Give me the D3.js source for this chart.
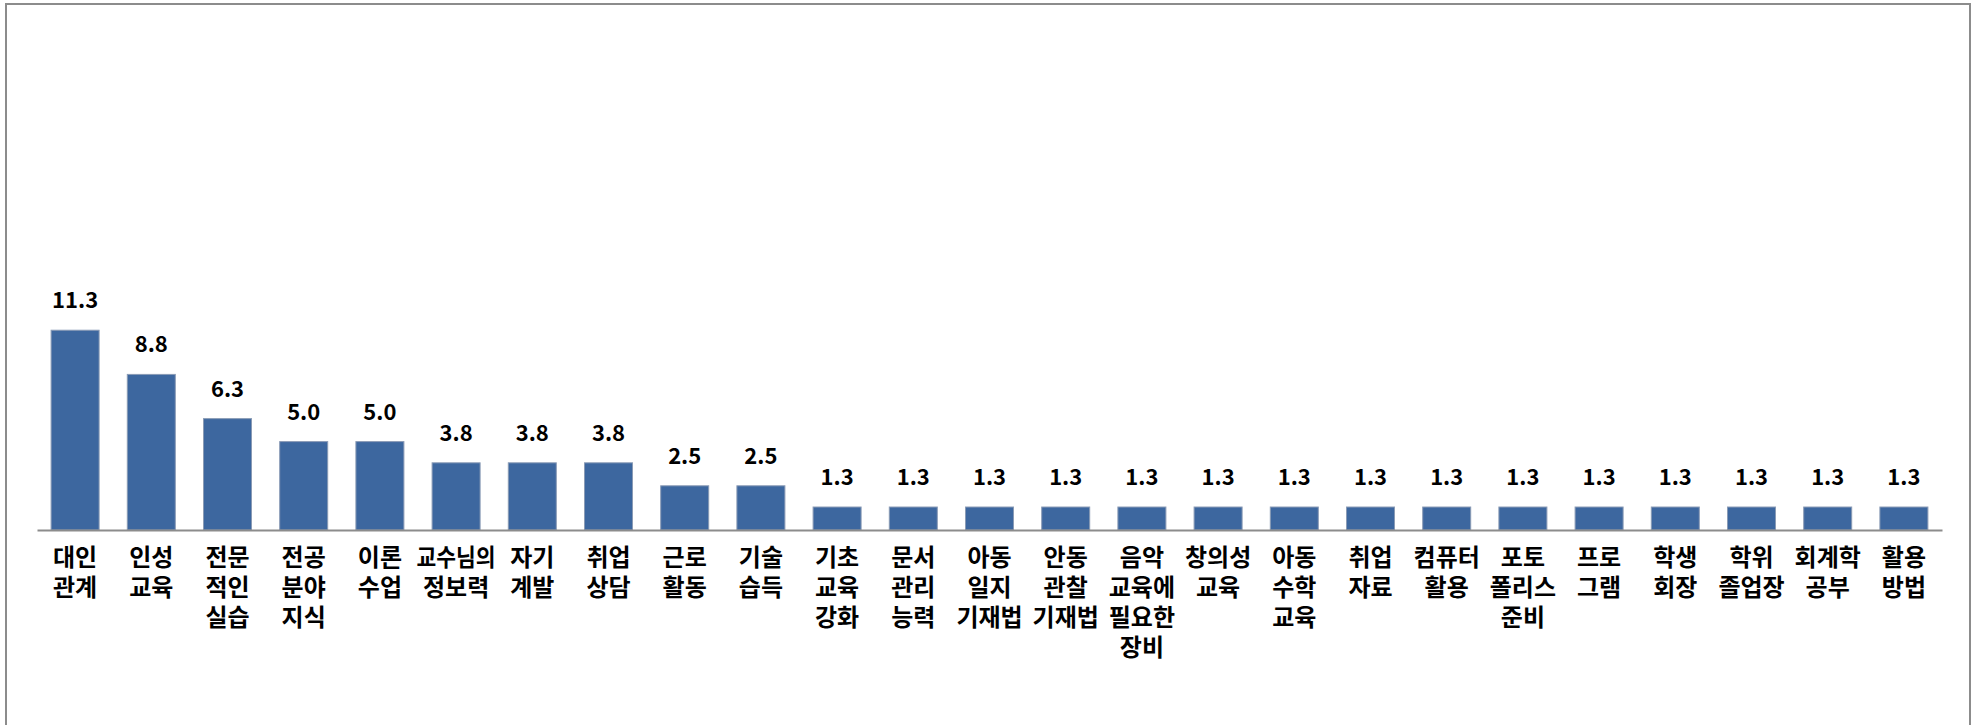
<!DOCTYPE html>
<html>
<head>
<meta charset="utf-8">
<script src="https://cdn.jsdelivr.net/npm/d3@7"></script>
<style>
  body { margin: 0; background: #fff; }
  text { font-family: "Noto Sans CJK KR", "Noto Sans", sans-serif; font-weight: bold; fill: #000; }
</style>
</head>
<body>
<div id="chart"></div>
<script>
// categories (line breaks as in the original labels)
var categories = [
  "대인|관계", "인성|교육", "전문|적인|실습", "전공|분야|지식", "이론|수업",
  "교수님의|정보력", "자기|계발", "취업|상담", "근로|활동", "기술|습득",
  "기초|교육|강화", "문서|관리|능력", "아동|일지|기재법", "안동|관찰|기재법", "음악|교육에|필요한|장비",
  "창의성|교육", "아동|수학|교육", "취업|자료", "컴퓨터|활용", "포토|폴리스|준비",
  "프로|그램", "학생|회장", "학위|졸업장", "회계학|공부", "활용|방법"
];
var values = [11.3, 8.8, 6.3, 5.0, 5.0, 3.8, 3.8, 3.8, 2.5, 2.5,
  1.3, 1.3, 1.3, 1.3, 1.3, 1.3, 1.3, 1.3, 1.3, 1.3, 1.3, 1.3, 1.3, 1.3, 1.3];

var width = 1977, height = 725;

var svg = d3.select("#chart")
  .append("svg")
  .attr("width", width)
  .attr("height", height);

// outer frame
svg.append("rect")
  .attr("x", 6).attr("y", 4)
  .attr("width", 1964).attr("height", 730)
  .attr("fill", "none")
  .attr("stroke", "#8c8c8c")
  .attr("stroke-width", 2);

var data = categories.map(function(c, i) { return { cat: c, value: values[i] }; });

var x = d3.scaleBand()
  .domain(categories)
  .range([37, 1942])
  .paddingInner(0.37)
  .paddingOuter(0.185);

var y = d3.scaleLinear()
  .domain([0, 25])
  .range([530, 88]);

// bars
svg.selectAll(".bar")
  .data(data)
  .enter().append("rect")
  .attr("class", "bar")
  .attr("x", function(d) { return x(d.cat); })
  .attr("y", function(d) { return y(d.value); })
  .attr("width", x.bandwidth())
  .attr("height", function(d) { return y(0) - y(d.value); })
  .attr("fill", "#3d679f")
  .attr("stroke", "#8a9bb5")
  .attr("stroke-width", 1);

// baseline
var axis = svg.append("g")
  .attr("transform", "translate(0," + y(0) + ")")
  .call(d3.axisBottom(x).tickSize(0).tickFormat(""));
axis.select(".domain").attr("stroke", "#8c8c8c").attr("stroke-width", 2);

// value labels
svg.selectAll(".val")
  .data(data)
  .enter().append("text")
  .attr("class", "val")
  .attr("x", function(d) { return x(d.cat) + x.bandwidth() / 2; })
  .attr("y", function(d) { return y(d.value) - 22; })
  .attr("text-anchor", "middle")
  .style("font-size", "22px")
  .text(function(d) { return d.value.toFixed(1); });

// category labels, several lines each
var labels = svg.selectAll(".cat")
  .data(data)
  .enter().append("text")
  .attr("class", "cat")
  .attr("text-anchor", "middle")
  .style("font-size", "24px");

labels.selectAll("tspan")
  .data(function(d) {
    return d.cat.split("|").map(function(t) { return { t: t, cx: x(d.cat) + x.bandwidth() / 2 }; });
  })
  .enter().append("tspan")
  .attr("x", function(d) { return d.cx; })
  .attr("y", function(d, i) { return 566 + i * 30; })
  .text(function(d) { return d.t; })
  // the four-letter label is squeezed in the original
  .each(function(d) {
    if (d.t.length > 3) {
      d3.select(this).attr("textLength", 79).attr("lengthAdjust", "spacingAndGlyphs");
    }
  });
</script>
</body>
</html>
